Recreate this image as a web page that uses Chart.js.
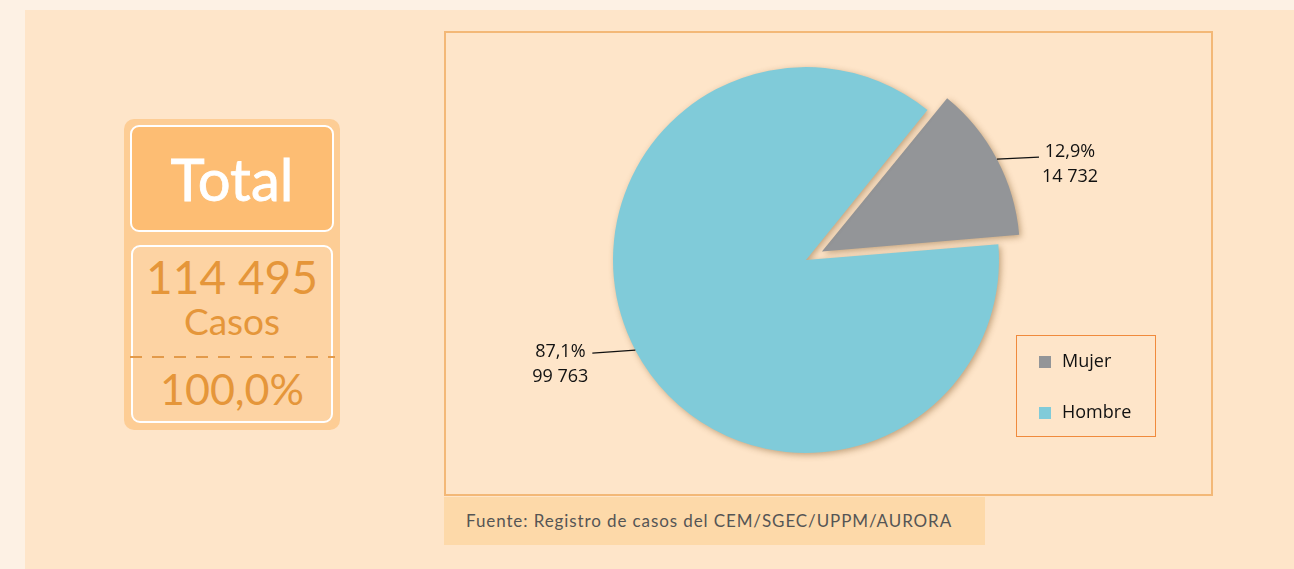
<!DOCTYPE html>
<html>
<head>
<meta charset="utf-8">
<script src="https://cdn.jsdelivr.net/npm/chart.js@4.4.1/dist/chart.umd.min.js"></script>
<style>
html,body{margin:0;padding:0;width:1294px;height:569px;overflow:hidden;background:#fdf1e4;font-family:"Lato",sans-serif;}
.abs{position:absolute;box-sizing:border-box;}
#panel{left:25px;top:10px;width:1269px;height:559px;background:#fee5c9;}
#tOuter{left:124px;top:119px;width:216px;height:311px;background:#fdcd95;border-radius:10px;}
#tTop{left:130px;top:125px;width:204px;height:107px;background:#fdbd73;border:2px solid #fff;border-radius:9px;}
#tBot{left:131px;top:245px;width:202px;height:178px;background:#fdd3a3;border:2px solid #fff;border-radius:9px;}
#tTitle{left:130px;top:125px;width:204px;height:107px;color:#fff;font-size:58px;font-weight:400;-webkit-text-stroke:0.8px #fff;line-height:107px;text-align:center;}
#tNum{left:124px;top:250px;width:216px;color:#e5963a;font-size:46px;line-height:54px;text-align:center;}
#tCasos{left:124px;top:301px;width:216px;color:#e5963a;font-size:37px;line-height:40px;text-align:center;}
#tDash{left:130px;top:356px;width:205px;height:2px;background:linear-gradient(90deg,#e39a4a 0 12px,transparent 12px 22px);background-size:22px 2px;background-repeat:repeat-x;}
#tPct{left:124px;top:364px;width:216px;color:#e5963a;font-size:43px;line-height:50px;text-align:center;}
#frame{left:444px;top:31px;width:769px;height:465px;border:2.5px solid #f3b877;}
#chartWrap{left:446px;top:24px;width:763px;height:472px;}
#legend{left:1016px;top:335px;width:140px;height:102px;border:1.5px solid #f08a3c;}
.li{position:absolute;left:22px;font-family:"Open Sans",sans-serif;font-size:18px;color:#111;height:24px;line-height:24px;}
.li span{display:inline-block;width:12px;height:12px;margin-right:11px;vertical-align:-1px;}
#footer{left:444px;top:497px;width:541px;height:48px;background:#fdd9a9;}
#footText{left:466px;top:497px;height:48px;line-height:48px;color:#555;font-size:17px;letter-spacing:0.9px;white-space:nowrap;}
</style>
</head>
<body>
<div id="panel" class="abs"></div>
<div id="tOuter" class="abs"></div>
<div id="tTop" class="abs"></div>
<div id="tBot" class="abs"></div>
<div id="tTitle" class="abs"></div>
<div id="tNum" class="abs"></div>
<div id="tCasos" class="abs"></div>
<div id="tDash" class="abs"></div>
<div id="tPct" class="abs"></div>
<div id="frame" class="abs"></div>
<div id="chartWrap" class="abs"><canvas id="c" width="763" height="472"></canvas></div>
<div id="legend" class="abs"></div>
<div id="footer" class="abs"></div>
<div id="footText" class="abs"></div>
<script>
// ---- data ----
const categories = ['Mujer', 'Hombre'];
const caseCounts = [14732, 99763];
const sliceColors = ['#939598', '#80cbd9'];
const sliceOffsets = [72, 0];
const totalTitle = 'Total';
const totalCases = 114495;
const totalUnit = 'Casos';
const totalPercent = '100,0%';
const sourceText = 'Fuente: Registro de casos del CEM/SGEC/UPPM/AURORA';

function fmtNum(n){ return String(n).replace(/\B(?=(\d{3})+(?!\d))/g, ' '); }
function fmtPct(v, t){ return (v / t * 100).toFixed(1).replace('.', ',') + '%'; }

document.getElementById('tTitle').textContent = totalTitle;
document.getElementById('tNum').textContent = fmtNum(totalCases);
document.getElementById('tCasos').textContent = totalUnit;
document.getElementById('tPct').textContent = totalPercent;
document.getElementById('footText').textContent = sourceText;

const legend = document.getElementById('legend');
categories.forEach((cat, i) => {
  const d = document.createElement('div');
  d.className = 'li';
  d.style.top = (12 + i * 51) + 'px';
  d.innerHTML = '<span style="background:' + sliceColors[i] + '"></span>' + cat;
  legend.appendChild(d);
});

const sum = caseCounts.reduce((a, b) => a + b, 0);

const shadowPlugin = {
  id: 'shadow',
  beforeDatasetsDraw(chart) {
    const ctx = chart.ctx;
    ctx.save();
    ctx.shadowColor = 'rgba(120,80,30,0.45)';
    ctx.shadowBlur = 6;
    ctx.shadowOffsetX = 2;
    ctx.shadowOffsetY = 2;
  },
  afterDatasetsDraw(chart) {
    chart.ctx.restore();
  }
};

const labelPlugin = {
  id: 'sliceLabels',
  afterDraw(chart) {
    const ctx = chart.ctx;
    const meta = chart.getDatasetMeta(0);
    ctx.save();
    ctx.font = '18px "Open Sans", sans-serif';
    ctx.fillStyle = '#111';
    ctx.strokeStyle = '#111';
    ctx.lineWidth = 1.3;
    ctx.textAlign = 'center';
    ctx.textBaseline = 'middle';
    meta.data.forEach((arc, i) => {
      const p = arc.getProps(['x', 'y', 'startAngle', 'endAngle', 'outerRadius', 'circumference'], true);
      const mid = (p.startAngle + p.endAngle) / 2;
      // same displacement Chart.js applies to an offset arc
      const off = (arc.options.offset || 0) / 4;
      const fix = 1 - Math.sin(Math.min(Math.PI, p.circumference || 0));
      const shift = off + off * fix;
      const px = p.x + Math.cos(mid) * (p.outerRadius + shift);
      const py = p.y + Math.sin(mid) * (p.outerRadius + shift);
      const right = Math.cos(mid) >= 0;
      const ex = right ? px + 42 : px - 43;
      const ey = right ? py - 2 : py + 3;
      ctx.beginPath();
      ctx.moveTo(px, py);
      ctx.lineTo(ex, ey);
      ctx.stroke();
      const cx = right ? ex + 31 : ex - 32;
      const y1 = right ? ey - 5 : ey - 1;
      ctx.fillText(fmtPct(caseCounts[i], sum), cx, y1);
      ctx.fillText(fmtNum(caseCounts[i]), cx, y1 + 25);
    });
    ctx.restore();
  }
};

new Chart(document.getElementById('c'), {
  type: 'pie',
  data: {
    labels: categories,
    datasets: [{
      data: caseCounts,
      backgroundColor: sliceColors,
      borderWidth: 0,
      offset: sliceOffsets,
      clip: false
    }]
  },
  options: {
    responsive: false,
    animation: false,
    devicePixelRatio: 1,
    rotation: 39,
    layout: { padding: { left: 131, right: 174, top: 7, bottom: 7 } },
    plugins: { legend: { display: false }, tooltip: { enabled: false } }
  },
  plugins: [shadowPlugin, labelPlugin]
});
</script>
</body>
</html>
